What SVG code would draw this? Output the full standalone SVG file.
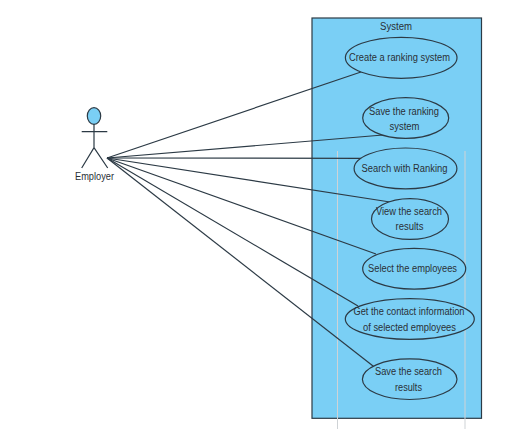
<svg xmlns="http://www.w3.org/2000/svg" width="519" height="440" viewBox="0 0 519 440">
<style>
text{font-family:"Liberation Sans",Arial,sans-serif;font-size:10px;fill:#2a2f35;text-anchor:middle}
.u{fill:#7acff5;stroke:#2c3a45;stroke-width:1.2}
.c{stroke:#2c3a45;stroke-width:1.2;fill:none}
.g{stroke:#cfd3d6;stroke-width:1;fill:none}
</style>
<rect width="519" height="440" fill="#fff"/>
<g id="system"><rect x="312" y="18" width="169.500" height="400.300" fill="#7acff5" stroke="#2c3a45" stroke-width="1.200"/><text x="396" y="29.500" textLength="32" lengthAdjust="spacingAndGlyphs">System</text></g>
<g id="guides"><path class="g" d="M337.500 151V429M465 151V429"/></g>
<g id="connectors">
<path class="c" d="M107 158L361.700 71.700"/>
<path class="c" d="M107 158L383 135"/>
<path class="c" d="M107 158L361.700 158.300"/>
<path class="c" d="M107 158L390 202"/>
<path class="c" d="M107 158L376 254"/>
<path class="c" d="M107 158L358 306"/>
<path class="c" d="M107 158L374 366.700"/>
</g>
<g id="employer">
<ellipse class="u" cx="94" cy="116" rx="6.700" ry="8.300"/>
<path class="c" d="M94 124.300V147.700M81.700 131.700H107.300M81.700 168L94 147.700L107.700 168"/>
<text x="94.500" y="180" textLength="39" lengthAdjust="spacingAndGlyphs">Employer</text>
</g>
<g id="uc1"><ellipse class="u" cx="401.200" cy="57.800" rx="55.800" ry="20.500"/><text x="399.500" y="61" textLength="101" lengthAdjust="spacingAndGlyphs">Create a ranking system</text></g>
<g id="uc2"><ellipse class="u" cx="405.700" cy="118" rx="43" ry="20.300"/><text x="404" y="114.500" textLength="70" lengthAdjust="spacingAndGlyphs">Save the ranking</text><text x="404.500" y="130" textLength="30" lengthAdjust="spacingAndGlyphs">system</text></g>
<g id="uc3"><ellipse class="u" cx="405.500" cy="168.400" rx="51.400" ry="20.400"/><text x="404.500" y="171.500" textLength="86" lengthAdjust="spacingAndGlyphs">Search with Ranking</text></g>
<g id="uc4"><ellipse class="u" cx="410" cy="219" rx="38.500" ry="20.400"/><text x="409" y="214.500" textLength="66" lengthAdjust="spacingAndGlyphs">View the search</text><text x="409.500" y="230" textLength="28" lengthAdjust="spacingAndGlyphs">results</text></g>
<g id="uc5"><ellipse class="u" cx="414.200" cy="268.700" rx="51.500" ry="20.400"/><text x="412.500" y="272" textLength="89" lengthAdjust="spacingAndGlyphs">Select the employees</text></g>
<g id="uc6"><ellipse class="u" cx="409.800" cy="319" rx="64.500" ry="20.400"/><text x="409" y="315" textLength="111" lengthAdjust="spacingAndGlyphs">Get the contact information</text><text x="409.500" y="330.500" textLength="93" lengthAdjust="spacingAndGlyphs">of selected employees</text></g>
<g id="uc7"><ellipse class="u" cx="409.700" cy="379.200" rx="47.300" ry="20.300"/><text x="408.500" y="375" textLength="67" lengthAdjust="spacingAndGlyphs">Save the search</text><text x="408.500" y="390.500" textLength="27" lengthAdjust="spacingAndGlyphs">results</text></g>
</svg>
